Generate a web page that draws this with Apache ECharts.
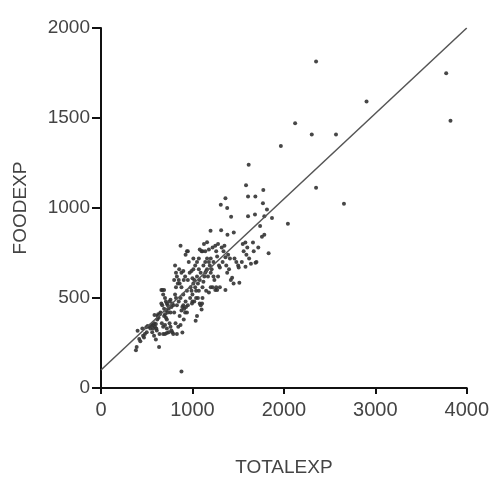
<!DOCTYPE html>
<html><head><meta charset="utf-8">
<script src="https://cdn.jsdelivr.net/npm/echarts@6/dist/echarts.min.js"></script>
<style>html,body{margin:0;padding:0;background:#fff}#c{width:492px;height:482px}</style>
</head><body><div id="c"></div>
<script>
const xTicks = [0, 1000, 2000, 3000, 4000];
const yTicks = [0, 500, 1000, 1500, 2000];
const fitX = [0, 4000];
const fitY = [100, 2000];
const points = [
[382,210],[390,228],[418,272],[400,318],[452,330],[470,280],[480,300],[495,338],[510,345],[525,340],[540,330],[460,290],[500,310],[430,260],
[550,350],[565,348],[580,360],[590,340],[600,355],[615,380],[620,400],[625,410],[630,390],[640,300],[610,320],[560,310],[580,290],[600,270],[635,228],[645,410],[650,420],[585,405],[570,330],[605,330],
[660,545],[672,545],[690,545],[680,520],[700,500],[710,480],[720,470],[660,470],[670,460],[690,400],[700,410],[710,390],[720,380],[730,420],[740,440],[750,360],[760,340],[770,320],[780,310],[790,300],[665,360],[680,340],[700,350],[720,330],[740,310],[760,420],[770,450],[780,470],[790,460],[800,420],[690,440],[710,430],[730,460],[750,480],[760,490],[680,300],[700,300],[720,305],
[800,600],[820,640],[810,680],[830,620],[850,600],[820,560],[840,580],[860,580],[870,790],[855,660],[880,640],[900,650],[905,600],[920,620],[925,740],[940,760],[950,760],[880,430],[890,450],[900,460],[910,440],[920,420],[930,450],[860,400],[870,350],[890,309],[900,520],[830,460],[820,500],[810,520],[850,480],[870,500],[880,560],[940,540],[950,600],[880,91],[830,300],[815,360],[845,340],[925,480],[940,420],[905,380],[950,460],
[960,700],[980,560],[990,540],[1000,520],[1010,580],[1020,600],[1030,560],[1040,540],[1050,620],[1060,580],[1070,540],[1080,600],[1000,480],[1020,480],[1040,500],[1060,500],[1080,470],[1035,373],[1050,400],[1100,436],[1090,460],[1105,470],[1110,500],[970,640],[990,650],[1010,660],[1030,680],[1050,700],[1070,720],[1080,770],[1100,760],[975,500],[995,470],[1070,660],[1090,640],[1000,610],[1010,720],
[1110,560],[1120,590],[1130,620],[1140,640],[1150,650],[1160,660],[1170,620],[1120,680],[1140,700],[1160,720],[1180,700],[1190,680],[1200,640],[1210,660],[1220,560],[1230,620],[1240,600],[1250,545],[1260,560],[1270,545],[1280,620],[1126,800],[1160,810],[1198,873],[1220,780],[1250,790],[1260,760],[1280,800],[1110,760],[1140,760],[1180,770],[1200,720],[1230,700],[1270,730],[1290,680],[1300,670],[1150,540],[1180,530],[1200,560],
[1310,1018],[1361,1054],[1380,1000],[1423,951],[1314,876],[1383,851],[1452,864],[1320,780],[1350,790],[1361,727],[1390,740],[1410,720],[1330,700],[1370,680],[1400,660],[1434,613],[1361,545],[1380,640],[1420,600],[1460,720],[1480,700],[1500,680],[1450,580],[1340,760],[1300,560],
[1513,585],[1506,669],[1580,673],[1579,809],[1662,809],[1540,700],[1560,760],[1600,780],[1620,720],[1640,690],[1690,696],[1700,700],[1586,1127],[1608,1064],[1688,1064],[1608,954],[1684,964],[1615,1240],[1550,800],[1590,740],[1670,760],
[1775,1100],[1771,1027],[1815,991],[1870,945],[1786,954],[1786,851],[1833,749],[1740,900],[1760,840],[1720,780],[1967,1345],
[2044,913],[2123,1471],[2305,1409],[2352,1814],[2352,1113],[2570,1409],[2657,1024],[2904,1591],[3775,1749],[3822,1485]
];
const chart = echarts.init(document.getElementById('c'), null, {renderer: 'canvas'});
const font = 'Liberation Sans, Arial, sans-serif';
const plain = v => String(v);
chart.setOption({
  animation: false,
  backgroundColor: '#fff',
  grid: {left: 101, right: 23, top: 28, bottom: 89, containLabel: false},
  xAxis: {
    type: 'value', min: xTicks[0], max: xTicks[xTicks.length - 1], interval: 1000,
    name: 'TOTALEXP', nameLocation: 'middle', nameGap: 70,
    nameTextStyle: {fontFamily: font, fontSize: 19, color: '#444'},
    axisLine: {show: true, lineStyle: {color: '#111', width: 2}},
    axisTick: {show: true, length: 6, lineStyle: {color: '#111', width: 2}},
    axisLabel: {fontFamily: font, fontSize: 20, color: '#444', margin: 12, formatter: plain},
    splitLine: {show: false}
  },
  yAxis: {
    type: 'value', min: yTicks[0], max: yTicks[yTicks.length - 1], interval: 500,
    name: 'FOODEXP', nameLocation: 'middle', nameGap: 71,
    nameTextStyle: {fontFamily: font, fontSize: 19, color: '#444'},
    axisLine: {show: true, lineStyle: {color: '#111', width: 2}},
    axisTick: {show: true, length: 9, lineStyle: {color: '#111', width: 2}},
    axisLabel: {fontFamily: font, fontSize: 19, color: '#444', margin: 11, formatter: plain},
    splitLine: {show: false}
  },
  series: [
    {
      type: 'scatter', data: points, symbolSize: 4,
      itemStyle: {color: '#333', opacity: 0.9}
    },
    {
      type: 'line', data: fitX.map((x, i) => [x, fitY[i]]), symbol: 'none',
      lineStyle: {color: '#555', width: 1.5}, z: 3
    }
  ]
});
</script></body></html>
